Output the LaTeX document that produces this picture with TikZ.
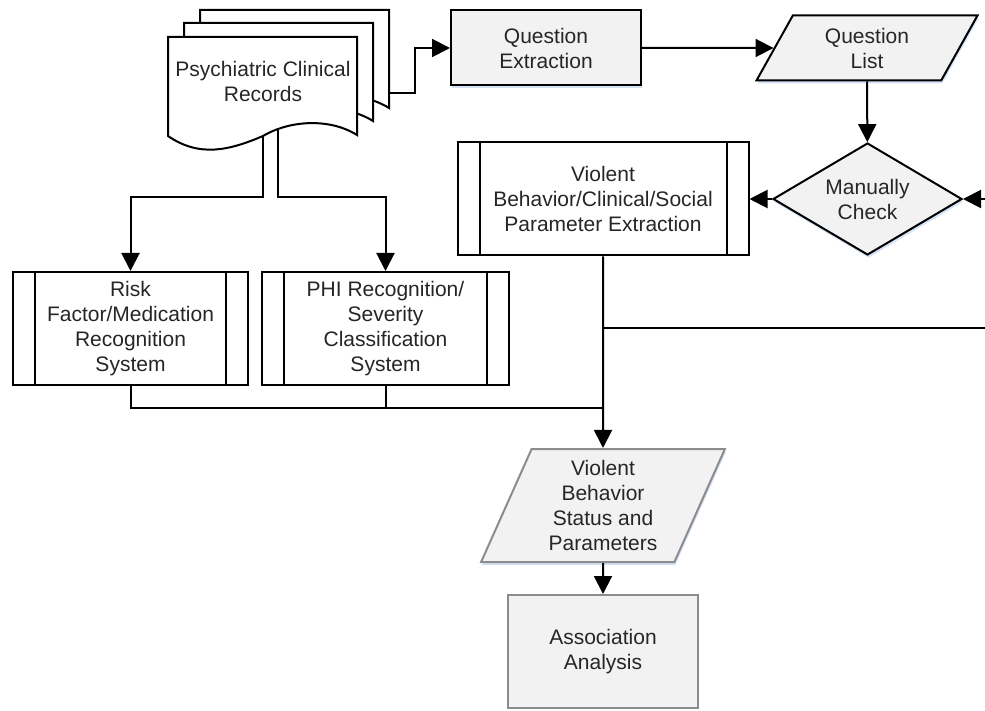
\documentclass[tikz,border=0pt]{standalone}
\usepackage{fontspec}
\setmainfont{Liberation Sans}
\usetikzlibrary{arrows.meta}
\usetikzlibrary{positioning}
\usetikzlibrary{shapes.geometric}
\usetikzlibrary{shadows}
\definecolor{BoxGray}{HTML}{F2F2F2}
\definecolor{ShadowBlue}{HTML}{D3E3F5}
\definecolor{EdgeGray}{HTML}{8C8C8C}
\definecolor{TextBlack}{HTML}{262626}

\begin{document}
\begin{tikzpicture}[x=0.5pt, y=-0.5pt, line width=1pt,
  every node/.style={font=\fontsize{10.5}{12.5}\selectfont, text=TextBlack, align=center, inner sep=0pt},
  flow/.style={-{Triangle[length=9pt,width=9pt]}},
  blueshadow/.style={drop shadow={shadow xshift=0.5pt, shadow yshift=-1.5pt, fill=ShadowBlue, opacity=1}},
  procbox/.style={draw, fill=BoxGray, minimum width=95pt, minimum height=37.5pt},
  databox/.style={draw, fill=BoxGray, blueshadow, trapezium, trapezium stretches=true},
  subsys/.style={draw, fill=white, minimum height=56.5pt}]
  \useasboundingbox (0,0) rectangle (985,711);

  % stacked records
  \foreach \dx/\dy in {32/-27,16/-14,0/0}{%
    \draw[fill=white, shift={(\dx,\dy)}] (168,136) -- (168,37) -- (357,37) -- (357,135)
      .. controls (330,118) and (290,120) .. (263,136)
      .. controls (230,150) and (200,158) .. (168,136) -- cycle;
  }
  \node (Records) at (263,81) {Psychiatric Clinical\\Records};
  \coordinate (RecOut)   at (388,93);
  \coordinate (RecLeft)  at (263,136);
  \coordinate (RecRight) at (278,129);

  \node[procbox, blueshadow] (QExtract) at (546,48) {Question\\Extraction};
  \node[databox, trapezium left angle=63, trapezium right angle=117,
        minimum width=111pt, minimum height=32.5pt] (QList) at (867,48) {Question\\List};
  \node[draw, fill=BoxGray, blueshadow, diamond, aspect=1.7,
        minimum width=94.5pt, minimum height=56pt] (Check) at (867.5,199) {Manually\\Check};
  \node[subsys, minimum width=145.5pt] (ParamExtract) at (603,199)
    {Violent\\Behavior/Clinical/Social\\Parameter Extraction};
  \node[subsys, minimum width=117.5pt] (RiskSys) at (130.5,328.5)
    {Risk\\Factor/Medication\\Recognition\\System};
  \node[subsys, minimum width=123.5pt] (PHISys) at (385.5,328.5)
    {PHI Recognition/\\Severity\\Classification\\System};
  \node[databox, draw=EdgeGray, trapezium left angle=67, trapezium right angle=113,
        minimum width=123pt, minimum height=56.5pt] (Status) at (603,505.5)
    {Violent\\Behavior\\Status and\\Parameters};
  \node[procbox, draw=EdgeGray, minimum height=56.5pt] (Assoc) at (603,651.5)
    {Association\\Analysis};

  \foreach \n in {ParamExtract,RiskSys,PHISys}{%
    \draw ([xshift=11.5pt]\n.north west) -- ([xshift=11.5pt]\n.south west);
    \draw ([xshift=-11.5pt]\n.north east) -- ([xshift=-11.5pt]\n.south east);
  }

  \coordinate (FromRight) at (985,199);
  \coordinate (ToRight)   at (985,328);
  \coordinate (Join)      at (603,408);

  \draw[flow] (RecOut) -- ++(27,0) |- (QExtract.west);
  \draw[flow] (QExtract) -- (QList);
  \draw[flow] (QList) -- (Check);
  \draw[flow] (FromRight) -- (Check.east);
  \draw[flow] (Check.west) -- (ParamExtract.east);
  \draw[flow] (RecLeft) -- ++(0,61) -| (RiskSys.north);
  \draw[flow] (RecRight) -- ++(0,68) -| (PHISys.north);
  \draw[flow] (ParamExtract.south) -- (Status.north);
  \draw (ParamExtract.south |- ToRight) -- (ToRight);
  \draw (RiskSys.south) |- (Join);
  \draw (PHISys.south) |- (Join);
  \draw[flow] (Status) -- (Assoc);
\end{tikzpicture}
\end{document}
